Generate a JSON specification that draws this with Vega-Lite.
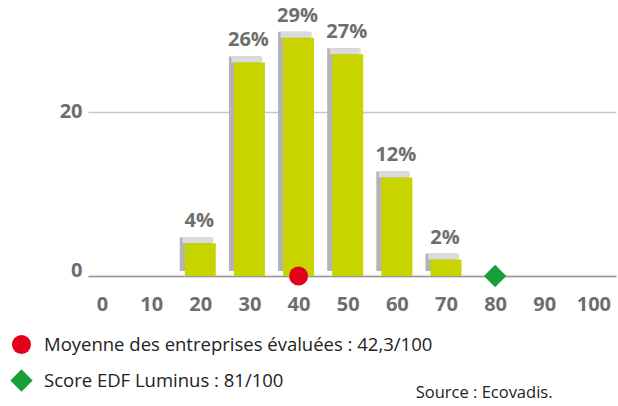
{
  "$schema": "https://vega.github.io/schema/vega-lite/v6.json",
  "autosize": "none",
  "width": 528,
  "height": 276,
  "padding": {"left": 88, "top": 0, "right": 2, "bottom": 130},
  "background": "white",
  "config": {
    "view": {"stroke": null},
    "font": "Open Sans"
  },
  "datasets": {
    "bars": [
      {"score": 20, "pct": 4, "label": "4%"},
      {"score": 30, "pct": 26, "label": "26%"},
      {"score": 40, "pct": 29, "label": "29%"},
      {"score": 50, "pct": 27, "label": "27%"},
      {"score": 60, "pct": 12, "label": "12%"},
      {"score": 70, "pct": 2, "label": "2%"}
    ],
    "markers": [
      {"score": 40, "pct": 0, "serie": "Moyenne des entreprises évaluées : 42,3/100"},
      {"score": 80, "pct": 0, "serie": "Score EDF Luminus : 81/100"}
    ]
  },
  "layer": [
    {
      "data": {"name": "bars"},
      "mark": {"type": "bar", "size": 31, "color": "#b3b3b3", "xOffset": -5, "yOffset": -6, "y2Offset": -5},
      "encoding": {
        "x": {
          "field": "score", "type": "quantitative",
          "scale": {"domain": [-2.85, 104.6], "nice": false, "zero": false, "padding": 0},
          "axis": {
            "values": [0, 10, 20, 30, 40, 50, 60, 70, 80, 90, 100],
            "domainColor": "#9a9a9a", "domainWidth": 1.5,
            "ticks": false, "grid": false, "labelFlush": false,
            "labelFont": "Open Sans", "labelFontSize": 20, "labelFontWeight": "bold",
            "labelColor": "#6e6e6e", "labelPadding": 18,
            "title": "Source : Ecovadis.",
            "titleFont": "Open Sans", "titleFontSize": 16.5, "titleFontWeight": "normal",
            "titleColor": "#222222", "titleX": 464, "titleY": 121,
            "titleAlign": "right", "titleBaseline": "alphabetic"
          }
        },
        "y": {
          "field": "pct", "type": "quantitative",
          "scale": {"domain": [0, 33.6], "nice": false},
          "axis": {
            "values": [0, 20], "domain": false, "ticks": false,
            "grid": true, "gridColor": "#c8c8c8", "gridWidth": 1.5,
            "labelFont": "Open Sans", "labelFontSize": 20, "labelFontWeight": "bold",
            "labelColor": "#6e6e6e", "labelPadding": 6, "title": null, "labelFlush": false,
            "labelOffset": {"condition": {"test": "datum.value === 0", "value": -6}, "value": 0}
          }
        },
        "y2": {"datum": 0}
      }
    },
    {
      "data": {"name": "bars"},
      "mark": {"type": "bar", "size": 31, "color": "#dadada", "xOffset": -2.5, "yOffset": -6},
      "encoding": {
        "x": {"field": "score", "type": "quantitative"},
        "y": {"field": "pct", "type": "quantitative"},
        "y2": {"field": "pct"}
      }
    },
    {
      "data": {"name": "bars"},
      "mark": {"type": "bar", "size": 31, "color": "#c8d400"},
      "encoding": {
        "x": {"field": "score", "type": "quantitative"},
        "y": {"field": "pct", "type": "quantitative"}
      }
    },
    {
      "data": {"name": "bars"},
      "mark": {"type": "text", "font": "Open Sans", "fontSize": 20, "fontWeight": "bold", "color": "#6e6e6e", "baseline": "alphabetic", "dy": -16, "dx": -1},
      "encoding": {
        "x": {"field": "score", "type": "quantitative"},
        "y": {"field": "pct", "type": "quantitative"},
        "text": {"field": "label"}
      }
    },
    {
      "data": {"name": "markers"},
      "mark": {"type": "point", "filled": true, "opacity": 1},
      "encoding": {
        "x": {"field": "score", "type": "quantitative"},
        "y": {"field": "pct", "type": "quantitative"},
        "color": {
          "field": "serie", "type": "nominal",
          "scale": {"domain": ["Moyenne des entreprises évaluées : 42,3/100", "Score EDF Luminus : 81/100"], "range": ["#e2001a", "#17a03a"]},
          "legend": {
            "orient": "none", "legendX": -78, "legendY": 335,
            "title": null, "symbolStrokeWidth": 0,
            "labelFont": "Open Sans", "labelFontSize": 18.5, "labelColor": "#222222",
            "labelOffset": 11, "rowPadding": 15, "labelLimit": 600
          }
        },
        "shape": {
          "field": "serie", "type": "nominal",
          "scale": {"domain": ["Moyenne des entreprises évaluées : 42,3/100", "Score EDF Luminus : 81/100"], "range": ["circle", "diamond"]}
        },
        "size": {
          "field": "serie", "type": "nominal",
          "scale": {"domain": ["Moyenne des entreprises évaluées : 42,3/100", "Score EDF Luminus : 81/100"], "range": [361, 500]}
        }
      }
    }
  ]
}
